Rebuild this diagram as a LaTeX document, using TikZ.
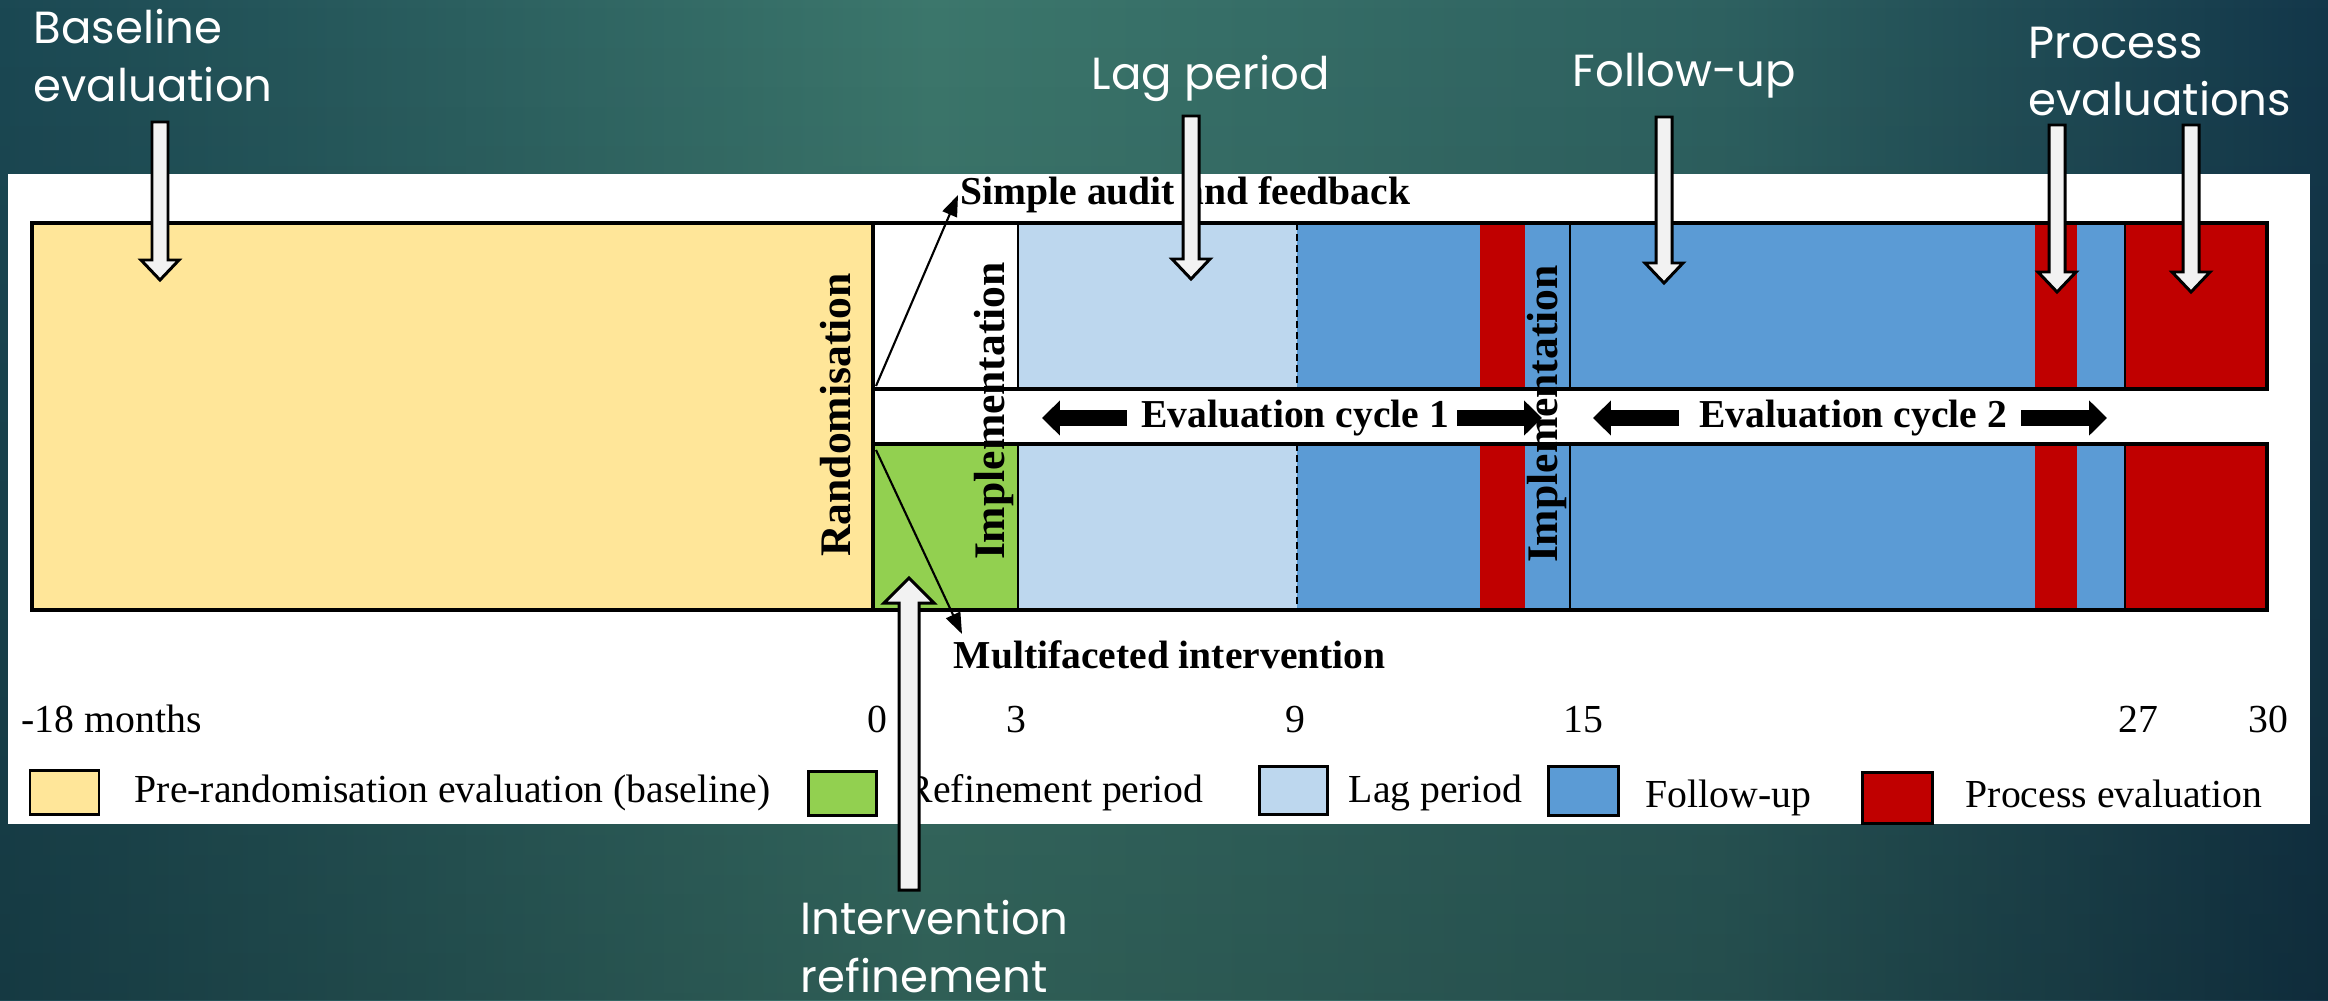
\documentclass[tikz,border=0pt]{standalone}
\usepackage{fontspec}
\setmainfont{Liberation Serif}
\newfontfamily\slidefont{Poppins}
\usetikzlibrary{arrows.meta,fadings,calc}

\definecolor{baseyellow}{HTML}{FFE699}
\definecolor{refgreen}{HTML}{92D050}
\definecolor{laglight}{HTML}{BDD7EE}
\definecolor{followblue}{HTML}{5B9BD5}
\definecolor{procred}{HTML}{C00000}
\definecolor{arrowwhite}{HTML}{F2F2F2}
\definecolor{bgleft}{HTML}{1B4853}
\definecolor{bgmid}{HTML}{3C776C}
\definecolor{bgright}{HTML}{13374A}

% slide backdrop, lightest a little left of centre
\pgfdeclarehorizontalshading{slidebg}{100bp}{color(0bp)=(bgleft); color(25bp)=(bgleft);
  color(45bp)=(bgmid); color(62bp)=(bgmid!65!bgright); color(75bp)=(bgright); color(100bp)=(bgright)}
\tikzfading[name=fadedown, top color=transparent!100, bottom color=transparent!0]

% white block arrow: tail, tip, shaft half width, head half width, head base offset
\newcommand{\calloutarrow}[5]{%
  \draw[callarrow] ($(#1)+(-#3,0)$) -- ($(#1)+(#3,0)$) -- ($(#2)+(#3,#5)$)
    -- ($(#2)+(#4,#5)$) -- (#2) -- ($(#2)+(-#4,#5)$) -- ($(#2)+(-#3,#5)$) -- cycle;}

\begin{document}
\begin{tikzpicture}[x=0.01cm, y=-0.01cm,
    barline/.style={line width=1.1pt, draw=black},
    sepline/.style={line width=0.45pt, draw=black},
    lagline/.style={line width=0.45pt, draw=black, dash pattern=on 2pt off 1.1pt},
    keybox/.style={line width=0.85pt, draw=black},
    axislabel/.style={inner sep=0pt, font=\fontsize{11.3}{13}\selectfont},
    keylabel/.style={inner sep=0pt, anchor=base west, font=\fontsize{11.3}{13}\selectfont},
    grouplabel/.style={inner sep=0pt, font=\bfseries\fontsize{11.25}{13}\selectfont},
    phaselabel/.style={inner sep=0pt, rotate=90, font=\bfseries\fontsize{12.4}{14}\selectfont},
    calltext/.style={inner sep=0pt, anchor=north west, text=white, align=left,
      font=\slidefont\fontsize{12.8}{16.3}\selectfont},
    callarrow/.style={draw=black, fill=arrowwhite, line width=0.85pt, line join=miter},
    bandarrow/.style={line width=4.8pt, -{Triangle[length=5.1pt, width=9.7pt]}},
    splitarrow/.style={line width=0.6pt, -{Triangle[length=6pt, width=4.4pt]}}]
  \useasboundingbox (0,0) rectangle (2328,1000);

  % backdrop and white panel
  \shade[shading=slidebg] (0,0) rectangle (2328,1000);
  \fill[black, opacity=0.2, path fading=fadedown] (0,0) rectangle (2328,1000);
  \fill[white] (8,174) rectangle (2310,824);

  % the two arms, month 0 at 873, month 30 at 2267
  \foreach \ya/\yb/\first in {223/389/white, 444/610/refgreen} {
    \foreach \xa/\xb/\col in {873/1018/\first, 1018/1297/laglight, 1297/1480/followblue,
        1480/1525/procred, 1525/2035/followblue, 2035/2077/procred,
        2077/2125/followblue, 2125/2267/procred} {
      \fill[\col] (\xa,\ya) rectangle (\xb,\yb);
    }
    \foreach \xs in {1018,1570,2125} {
      \draw[sepline] (\xs,\ya) -- (\xs,\yb);
    }
    \draw[lagline] (1297,\ya) -- (1297,\yb);
    \draw[barline] (873,\ya) rectangle (2267,\yb);
  }
  \draw[barline, fill=baseyellow] (32,223) rectangle (873,610);

  % labels inside the bars
  \node[phaselabel] (rand) at (836,415) {Randomisation};
  \node[phaselabel] (impl-a) at (994,411) {Implementation};
  \node[phaselabel] (impl-b) at (1547,414) {Implementation};
  \node[grouplabel, anchor=west] (saf) at (960,195) {Simple audit and feedback};
  \node[grouplabel, anchor=base west] (mfi) at (953,668) {Multifaceted intervention};
  \node[grouplabel, anchor=base] (cycle-a) at (1295,427) {Evaluation cycle 1};
  \node[grouplabel, anchor=base] (cycle-b) at (1853,427) {Evaluation cycle 2};

  % randomisation split
  \coordinate (split-top) at (876,386);
  \coordinate (split-bot) at (876,450);
  \coordinate (saf-tip) at (958,195);
  \coordinate (mfi-tip) at (962,634);
  \draw[splitarrow] (split-top) -- (saf-tip);
  \draw[splitarrow] (split-bot) -- (mfi-tip);

  % evaluation cycle arrows
  \foreach \name/\xt/\xh in {ca-l/1127/1042, ca-r/1457/1542, cb-l/1679/1593, cb-r/2021/2107} {
    \coordinate (\name-tail) at (\xt,418);
    \coordinate (\name-tip) at (\xh,418);
    \draw[bandarrow] (\name-tail) -- (\name-tip);
  }

  % time axis
  \node[axislabel, anchor=base west] (t-start) at (21,732) {-18 months};
  \foreach \xm/\m in {877/0, 1016/3, 1295/9, 1583/15, 2138/27, 2268/30} {
    \node[axislabel, anchor=base] (t\m) at (\xm,732) {\m};
  }

  % key
  \foreach \xa/\xb/\ya/\yb/\col/\xt/\yt/\txt [count=\i] in {
      30/99/770/814/baseyellow/134/802/Pre-randomisation evaluation (baseline),
      808/876/771/815/refgreen/906/802/Refinement period,
      1259/1327/766/814/laglight/1348/802/Lag period,
      1548/1618/766/815/followblue/1645/807/Follow-up,
      1862/1932/772/823/procred/1965/807/Process evaluation} {
    \draw[keybox, fill=\col] (\xa,\ya) rectangle (\xb,\yb);
    \node[keylabel] (key\i) at (\xt,\yt) {\txt};
  }

  % slide callouts
  \node[calltext] (lbl-base) at (33,9) {Baseline\\evaluation};
  \node[calltext] (lbl-lag) at (1091,55) {Lag period};
  \node[calltext] (lbl-follow) at (1572,52) {Follow-up};
  \node[calltext] (lbl-proc) at (2028,26) {Process\\evaluations};
  \node[calltext] (lbl-refine) at (800,900) {Intervention\\refinement};

  \coordinate (base-tail) at (160,122);    \coordinate (base-tip) at (160,280);
  \coordinate (lag-tail) at (1191,116);    \coordinate (lag-tip) at (1191,279);
  \coordinate (follow-tail) at (1664,117); \coordinate (follow-tip) at (1664,283);
  \coordinate (proc-a-tail) at (2057,125); \coordinate (proc-a-tip) at (2057,292);
  \coordinate (proc-b-tail) at (2191,125); \coordinate (proc-b-tip) at (2191,292);
  \coordinate (refine-tail) at (909,890);  \coordinate (refine-tip) at (909,578);

  \foreach \c in {base, lag, follow, proc-a, proc-b} {
    \calloutarrow{\c-tail}{\c-tip}{8}{19}{-20}
  }
  \calloutarrow{refine-tail}{refine-tip}{10}{25}{25}
\end{tikzpicture}
\end{document}
